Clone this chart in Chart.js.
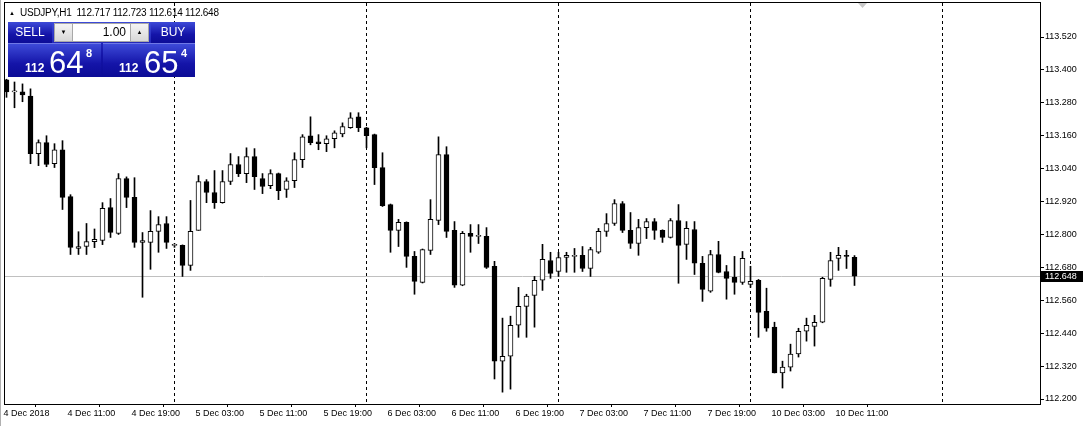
<!DOCTYPE html>
<html>
<head>
<meta charset="utf-8">
<script src="https://cdn.jsdelivr.net/npm/chart.js@4/dist/chart.umd.min.js"></script>
<style>
  body { margin: 0; background: #fff; }
  #wrap { position: relative; width: 1085px; height: 426px; overflow: hidden; }
  canvas { position: absolute; left: 0; top: 0; }
  .ov { position: absolute; font-family: "Liberation Sans", Arial, sans-serif; white-space: pre; }
  .blue { background: linear-gradient(#3d4ad8, #1414a8 60%, #0c0c96); color: #fff; }
  .grey { background: linear-gradient(#f4f4f4, #d8d8d8); border: 1px solid #a8a8a8; box-sizing: border-box; color: #000; }
  .big span { position: absolute; line-height: 1; }
</style>
</head>
<body>
<div id="wrap">
  <canvas id="chart" width="1085" height="426"></canvas>

  <div class="ov" style="left:9px; top:10px; font-size:6px;">▲</div>
  <div class="ov" style="left:20px; top:7px; font-size:10px; letter-spacing:-0.25px;">USDJPY,H1  112.717 112.723 112.614 112.648</div>

  <div class="ov blue" style="left:8px; top:22px; width:187px; height:55px;"></div>
  <div class="ov blue" style="left:8px; top:22px; width:44px; height:21px; font-size:12px; text-align:center; line-height:21px;">SELL</div>
  <div class="ov grey" style="left:54px; top:23px; width:19px; height:19px; font-size:6px; text-align:center; line-height:17px;">▼</div>
  <div class="ov" style="left:73px; top:23px; width:57px; height:19px; background:#fff; border-top:1px solid #a8a8a8; border-bottom:1px solid #a8a8a8; box-sizing:border-box; font-size:12px; text-align:right; line-height:17px; padding-right:4px;">1.00</div>
  <div class="ov grey" style="left:130px; top:23px; width:19px; height:19px; font-size:6px; text-align:center; line-height:17px;">▲</div>
  <div class="ov blue" style="left:151px; top:22px; width:44px; height:21px; font-size:12px; text-align:center; line-height:21px;">BUY</div>

  <div class="ov blue big" style="left:8px; top:43px; width:93px; height:34px; border-top:1px solid #6f78e6; box-sizing:border-box;">
    <span style="left:17px; top:18px; font-size:12px; font-weight:bold;">112</span>
    <span style="left:41px; top:3px; font-size:31px;">64</span>
    <span style="left:78px; top:4px; font-size:11px; font-weight:bold;">8</span>
  </div>
  <div class="ov blue big" style="left:103px; top:43px; width:92px; height:34px; border-top:1px solid #6f78e6; box-sizing:border-box;">
    <span style="left:16px; top:18px; font-size:12px; font-weight:bold;">112</span>
    <span style="left:41px; top:3px; font-size:31px;">65</span>
    <span style="left:78px; top:4px; font-size:11px; font-weight:bold;">4</span>
  </div>
</div>

<script>
// USDJPY H1, one candle per hour from 4 Dec 03:00
const openPrices = [
  113.364, 113.320, 113.320, 113.305, 113.095, 113.135, 113.058, 113.109, 112.938, 112.749,
  112.756, 112.774, 112.778, 112.898, 112.804, 113.004, 112.935, 112.771, 112.771, 112.811,
  112.840, 112.760, 112.760, 112.687, 112.815, 112.993, 112.953, 112.916, 112.993, 113.055,
  113.022, 113.084, 113.004, 112.978, 113.022, 112.964, 112.996, 113.073, 113.160, 113.138,
  113.131, 113.149, 113.167, 113.189, 113.229, 113.189, 113.164, 113.044, 112.909, 112.815,
  112.844, 112.720, 112.625, 112.742, 112.851, 113.091, 112.815, 112.615, 112.804, 112.793,
  112.793, 112.684, 112.338, 112.356, 112.469, 112.538, 112.578, 112.633, 112.705, 112.665,
  112.716, 112.720, 112.724, 112.676, 112.735, 112.811, 112.840, 112.913, 112.815, 112.767,
  112.825, 112.847, 112.815, 112.789, 112.851, 112.764, 112.818, 112.695, 112.593, 112.727,
  112.665, 112.644, 112.625, 112.618, 112.633, 112.520, 112.462, 112.295, 112.316, 112.364,
  112.447, 112.465, 112.480, 112.636, 112.713, 112.724, 112.717
];
const highPrices = [
  113.366, 113.356, 113.349, 113.331, 113.145, 113.160, 113.131, 113.142, 112.945, 112.810,
  112.840, 112.820, 112.916, 112.931, 113.022, 113.010, 113.007, 112.807, 112.887, 112.865,
  112.865, 112.767, 112.762, 112.924, 113.015, 113.000, 113.033, 113.033, 113.095, 113.084,
  113.116, 113.113, 113.022, 113.036, 113.024, 113.007, 113.098, 113.164, 113.229, 113.164,
  113.160, 113.178, 113.207, 113.244, 113.244, 113.191, 113.166, 113.098, 112.911, 112.855,
  112.846, 112.738, 112.747, 112.927, 113.156, 113.120, 112.847, 112.811, 112.836, 112.836,
  112.825, 112.702, 112.495, 112.502, 112.607, 112.582, 112.647, 112.764, 112.735, 112.735,
  112.735, 112.749, 112.756, 112.753, 112.822, 112.876, 112.927, 112.920, 112.880, 112.855,
  112.858, 112.858, 112.817, 112.858, 112.909, 112.847, 112.847, 112.720, 112.742, 112.775,
  112.687, 112.720, 112.738, 112.684, 112.636, 112.604, 112.480, 112.338, 112.400, 112.458,
  112.495, 112.505, 112.644, 112.735, 112.753, 112.742, 112.723
];
const lowPrices = [
  113.300, 113.262, 113.284, 113.058, 113.051, 113.047, 113.044, 112.891, 112.727, 112.727,
  112.727, 112.752, 112.763, 112.789, 112.800, 112.898, 112.753, 112.571, 112.673, 112.735,
  112.749, 112.753, 112.647, 112.669, 112.815, 112.916, 112.895, 112.914, 112.982, 113.011,
  112.989, 112.964, 112.949, 112.967, 112.927, 112.935, 112.971, 113.044, 113.127, 113.109,
  113.102, 113.116, 113.156, 113.187, 113.175, 113.116, 112.982, 112.902, 112.735, 112.756,
  112.680, 112.582, 112.623, 112.727, 112.836, 112.789, 112.607, 112.613, 112.735, 112.767,
  112.676, 112.273, 112.225, 112.236, 112.425, 112.425, 112.462, 112.596, 112.640, 112.647,
  112.662, 112.662, 112.665, 112.647, 112.731, 112.793, 112.833, 112.807, 112.749, 112.724,
  112.785, 112.782, 112.771, 112.787, 112.622, 112.709, 112.654, 112.556, 112.589, 112.660,
  112.564, 112.582, 112.618, 112.607, 112.425, 112.447, 112.295, 112.240, 112.302, 112.353,
  112.411, 112.393, 112.478, 112.611, 112.669, 112.676, 112.614
];
const closePrices = [
  113.320, 113.321, 113.309, 113.095, 113.135, 113.055, 113.109, 112.935, 112.753, 112.756,
  112.774, 112.782, 112.895, 112.807, 113.004, 112.935, 112.771, 112.778, 112.811, 112.836,
  112.771, 112.760, 112.687, 112.811, 112.993, 112.953, 112.916, 112.993, 113.055, 113.022,
  113.084, 113.011, 112.975, 113.022, 112.960, 112.996, 113.073, 113.156, 113.135, 113.131,
  113.149, 113.171, 113.193, 113.225, 113.189, 113.160, 113.044, 112.905, 112.815, 112.844,
  112.720, 112.629, 112.745, 112.855, 113.091, 112.811, 112.615, 112.804, 112.793, 112.793,
  112.680, 112.338, 112.356, 112.469, 112.538, 112.575, 112.633, 112.709, 112.658, 112.716,
  112.724, 112.720, 112.676, 112.745, 112.811, 112.840, 112.913, 112.815, 112.767, 112.825,
  112.847, 112.815, 112.789, 112.851, 112.760, 112.822, 112.695, 112.600, 112.727, 112.662,
  112.640, 112.625, 112.713, 112.629, 112.516, 112.458, 112.295, 112.316, 112.364, 112.447,
  112.469, 112.480, 112.640, 112.705, 112.724, 112.720, 112.648
];

const xTickBars   = [0, 8, 16, 24, 32, 40, 48, 56, 64, 72, 80, 88, 96, 104];
const xTickLabels = ["4 Dec 2018", "4 Dec 11:00", "4 Dec 19:00", "5 Dec 03:00", "5 Dec 11:00",
                     "5 Dec 19:00", "6 Dec 03:00", "6 Dec 11:00", "6 Dec 19:00", "7 Dec 03:00",
                     "7 Dec 11:00", "7 Dec 19:00", "10 Dec 03:00", "10 Dec 11:00"];
const yTicks      = [112.200, 112.320, 112.440, 112.560, 112.680, 112.800,
                     112.920, 113.040, 113.160, 113.280, 113.400, 113.520];
const daySeparators = [21, 45, 69, 93, 117];   // 5, 6, 7, 10, 11 Dec 00:00
const bidPrice = 112.648;

const FONT = "'Liberation Sans', Arial, sans-serif";

const wicks  = openPrices.map((o, i) => ({ x: i, y: [lowPrices[i], highPrices[i]] }));
const bodies = openPrices.map((o, i) => ({ x: i, y: [o, closePrices[i]] }));
const bodyColors = openPrices.map((o, i) => closePrices[i] >= o ? "#ffffff" : "#000000");

const mtExtras = {
  id: "mtExtras",
  beforeDatasetsDraw(chart) {
    const { ctx, chartArea: a, scales: { x, y } } = chart;
    ctx.save();
    ctx.lineWidth = 1;

    // bid line
    const py = Math.round(y.getPixelForValue(bidPrice)) + 0.5;
    ctx.strokeStyle = "#c0c0c0";
    ctx.beginPath(); ctx.moveTo(a.left, py); ctx.lineTo(a.right, py); ctx.stroke();

    // period separators
    ctx.strokeStyle = "#000";
    ctx.setLineDash([3, 3]);
    daySeparators.forEach(i => {
      const px = Math.floor(x.getPixelForValue(i)) + 0.5;
      ctx.beginPath(); ctx.moveTo(px, a.top); ctx.lineTo(px, a.bottom); ctx.stroke();
    });
    ctx.restore();
  },
  afterDraw(chart) {
    const { ctx, chartArea: a, scales: { y } } = chart;
    ctx.save();
    // frame
    ctx.strokeStyle = "#000";
    ctx.lineWidth = 1;
    ctx.strokeRect(a.left - 0.5, a.top - 0.5, a.right - a.left + 1, a.bottom - a.top + 1);

    // bid price tag
    const py = Math.round(y.getPixelForValue(bidPrice));
    ctx.fillStyle = "#000";
    ctx.fillRect(a.right + 1, py - 5, 42, 11);
    ctx.fillStyle = "#fff";
    ctx.font = "9px " + FONT;
    ctx.textBaseline = "middle";
    ctx.fillText(bidPrice.toFixed(3), a.right + 5, py + 0.5);

    // chart shift marker
    ctx.fillStyle = "#c8c8c8";
    ctx.beginPath();
    ctx.moveTo(858, a.top); ctx.lineTo(867, a.top); ctx.lineTo(862.5, a.top + 5); ctx.closePath();
    ctx.fill();

    // window border
    ctx.strokeStyle = "#b0b0b0";
    ctx.beginPath(); ctx.moveTo(0.5, 0); ctx.lineTo(0.5, 426); ctx.stroke();
    ctx.restore();
  }
};

new Chart(document.getElementById("chart"), {
  type: "bar",
  data: {
    datasets: [{
      data: bodies,
      backgroundColor: bodyColors,
      borderColor: "#000",
      borderWidth: 1,
      borderSkipped: false,
      barThickness: 5,
      minBarLength: 1,
      grouped: false,
      order: 1
    }, {
      data: wicks,
      backgroundColor: "#000",
      borderWidth: 0,
      barThickness: 1,
      grouped: false,
      order: 2
    }]
  },
  options: {
    responsive: false,
    animation: false,
    events: [],
    layout: { padding: { left: 5, top: 3, right: 0, bottom: 0 } },
    plugins: { legend: { display: false }, tooltip: { enabled: false } },
    scales: {
      x: {
        type: "linear",
        offset: false,
        min: -0.1875,
        max: 129.1875,
        afterBuildTicks: s => { s.ticks = xTickBars.map(v => ({ value: v - 0.375 })); },
        afterFit: s => { s.height = 22; s.paddingLeft = 0; s.paddingRight = 0; },
        grid: { drawOnChartArea: false, drawTicks: true, tickLength: 3, color: "#000" },
        border: { display: false },
        ticks: {
          autoSkip: false,
          maxRotation: 0,
          align: "start",
          padding: 1,
          color: "#000",
          font: { family: FONT, size: 9 },
          callback: (v, i) => xTickLabels[i]
        }
      },
      y: {
        type: "linear",
        position: "right",
        min: 112.1818,
        max: 113.644,
        afterBuildTicks: s => { s.ticks = yTicks.map(v => ({ value: v })); },
        afterFit: s => { s.width = 45; s.paddingTop = 0; s.paddingBottom = 0; },
        grid: { drawOnChartArea: false, drawTicks: true, tickLength: 4, color: "#000" },
        border: { display: false },
        ticks: {
          padding: 1,
          color: "#000",
          font: { family: FONT, size: 9 },
          callback: v => v.toFixed(3)
        }
      }
    }
  },
  plugins: [mtExtras]
});
</script>
</body>
</html>
